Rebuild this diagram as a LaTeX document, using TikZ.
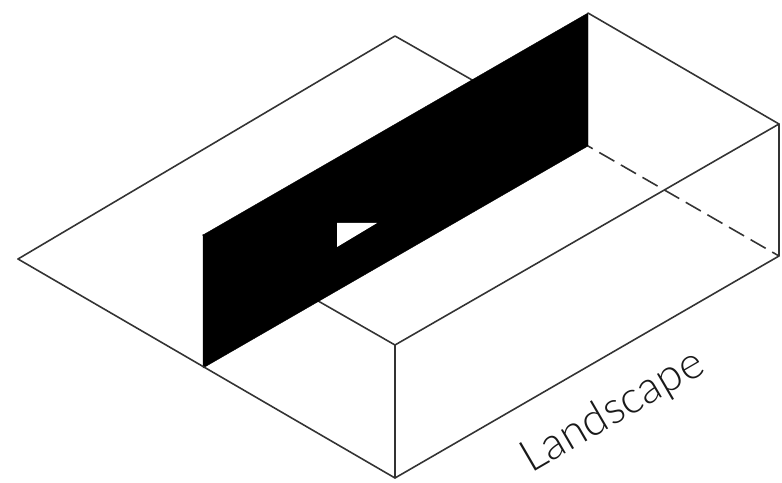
\documentclass[tikz,border=0pt]{standalone}
\usepackage{fontspec}
\setmainfont{Lato}[UprightFont=*-Light]
\usepackage{tikz}
\usetikzlibrary{calc}

\begin{document}
\begin{tikzpicture}[
    x=0.02cm, y=-0.02cm,
    edge/.style={draw=black!80, line width=0.9pt, line cap=round, line join=round},
    hidden/.style={edge, line cap=butt, dash pattern=on 9.9pt off 4.3pt, dash phase=6.8pt},
    wall/.style={fill=black, draw=black, line width=0.2pt},
    window/.style={fill=white},
    label/.style={font=\fontsize{25.5pt}{30pt}\selectfont, text=black!90, rotate=30.2, inner sep=0pt}
]
\useasboundingbox (0,0) rectangle (782,483);

% Ground plane and box corners
\coordinate (g_left) at (18,259);
\coordinate (g_top) at (395,36);
\coordinate (g_front) at (395,478);
\coordinate (g_right) at (779,256);
\coordinate (b_front) at (395,345);
\coordinate (b_right) at (779,124);

% Wall corners
\coordinate (w_tl) at (203,235);
\coordinate (w_tr) at (588,13);
\coordinate (w_br) at (588,146);
\coordinate (w_bl) at (203,368);

% Lines behind the wall
\draw[edge] (g_left) -- (g_top) -- (w_br);
\draw[edge] (w_tl) -- (b_front);

% Wall with its opening
\path[wall] (w_tl) -- (w_tr) -- (w_br) -- (w_bl) -- cycle;
\coordinate (t_a) at (337,223);
\coordinate (t_b) at (377,223);
\coordinate (t_c) at (337,247);
\path[window] (t_a) -- (t_b) -- (t_c) -- cycle;

% Box
\draw[edge] (g_left) -- (g_front) -- (g_right) -- (b_right) -- (w_tr);
\draw[edge] (g_front) -- (b_front) -- (b_right);
\draw[hidden] (w_br) -- (g_right);

\node[label] (landscape) at (613,412) {Landscape};

\end{tikzpicture}
\end{document}
